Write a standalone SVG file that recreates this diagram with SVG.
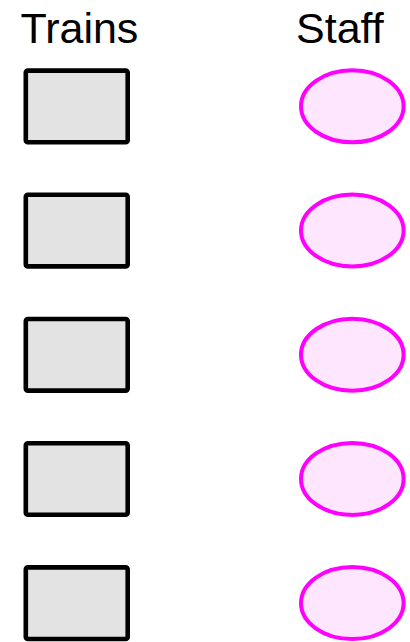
<svg xmlns="http://www.w3.org/2000/svg" width="410" height="642" viewBox="0 0 410 642">
<style>
.t{font-family:"Liberation Sans",Arial,sans-serif;font-size:43px;fill:#000}
.r{fill:#e3e3e3;stroke:#000;stroke-width:4.6}
.e{fill:#ffe6ff;stroke:#ff00ff;stroke-width:4}
</style>
<rect width="410" height="642" fill="#fff"/>
<g id="header-trains"><text class="t" x="20.5" y="43.3">Trains</text></g>
<g id="header-staff"><text class="t" x="296" y="43.3">Staff</text></g>
<g id="train1"><rect class="r" x="25.8" y="70.6" width="101.9" height="71.6" rx="2"/></g>
<g id="train2"><rect class="r" x="25.8" y="194.8" width="101.9" height="71.6" rx="2"/></g>
<g id="train3"><rect class="r" x="25.8" y="319" width="101.9" height="71.6" rx="2"/></g>
<g id="train4"><rect class="r" x="25.8" y="443.2" width="101.9" height="71.6" rx="2"/></g>
<g id="train5"><rect class="r" x="25.8" y="567.4" width="101.9" height="71.6" rx="2"/></g>
<g id="staff1"><ellipse class="e" cx="352.3" cy="106.3" rx="51.3" ry="36"/></g>
<g id="staff2"><ellipse class="e" cx="352.3" cy="230.5" rx="51.3" ry="36"/></g>
<g id="staff3"><ellipse class="e" cx="352.3" cy="354.7" rx="51.3" ry="36"/></g>
<g id="staff4"><ellipse class="e" cx="352.3" cy="478.9" rx="51.3" ry="36"/></g>
<g id="staff5"><ellipse class="e" cx="352.3" cy="603.1" rx="51.3" ry="36"/></g>
<g id="connectors"></g>
</svg>
